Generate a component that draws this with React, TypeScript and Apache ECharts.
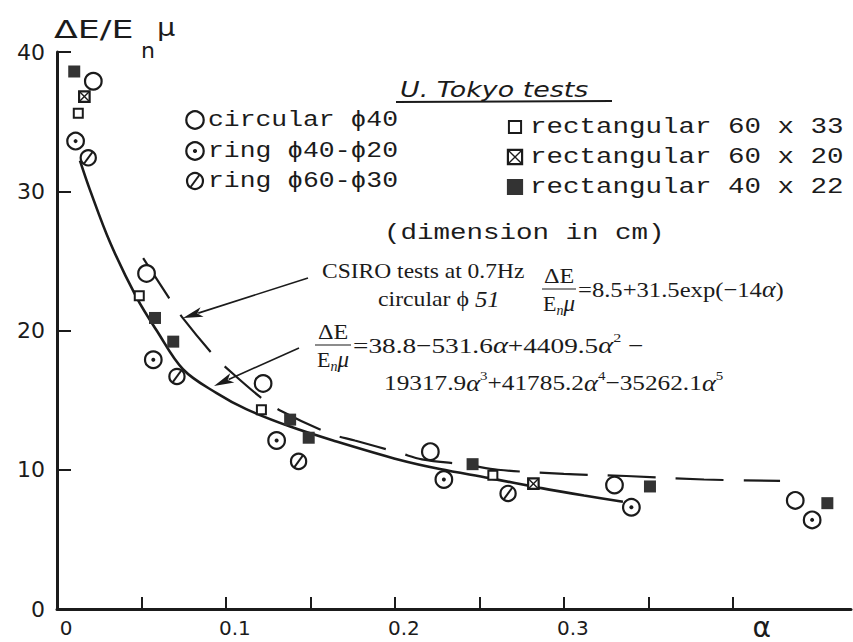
import React, { useEffect, useRef } from 'react';
import * as echarts from 'echarts';

// ---------------- data ----------------
const xTickValues = [0.05, 0.1, 0.15, 0.2, 0.25, 0.3, 0.35, 0.4];
const xLabelValues = [0, 0.1, 0.2, 0.3, 0.4];
const xLabelTexts = ['0', '0.1', '0.2', '0.3', 'α'];
const yLabelValues = [0, 10, 20, 30, 40];

// U. Tokyo tests
const circular40 = [[0.0215, 37.9], [0.053, 24.1], [0.122, 16.2], [0.221, 11.3], [0.33, 8.9], [0.437, 7.8]];
const ring40_20 = [[0.011, 33.6], [0.057, 17.9], [0.13, 12.1], [0.229, 9.3], [0.34, 7.3], [0.447, 6.4]];
const ring60_30 = [[0.0185, 32.4], [0.071, 16.7], [0.143, 10.6], [0.267, 8.3]];
const rect60x33 = [[0.0126, 35.6], [0.0487, 22.5], [0.121, 14.3], [0.258, 9.6]];
const rect60x20 = [[0.0162, 36.8], [0.282, 9.0]];
const rect40x22 = [[0.0102, 38.6], [0.058, 20.9], [0.0688, 19.2], [0.138, 13.6], [0.149, 12.3], [0.246, 10.4], [0.351, 8.8], [0.456, 7.6]];

// solid fitted curve (polynomial)
const polyCurve = [
  [0.0136, 32.2], [0.0195, 30.1], [0.0315, 26.3], [0.047, 22.4], [0.059, 20.0], [0.0747, 17.2],
  [0.0945, 15.5], [0.112, 14.35], [0.138, 13.1], [0.1635, 12.1], [0.203, 10.7], [0.2266, 10.05],
  [0.256, 9.4], [0.286, 8.7], [0.312, 8.15], [0.335, 7.7],
];
// dashed CSIRO curve, points read along the drawn dashes
const csiroCurve = [
  [0.051, 25.2], [0.0665, 22.3], [0.0738, 21.0], [0.0935, 18.1], [0.1004, 17.3], [0.12, 15.25],
  [0.133, 14.2], [0.1615, 12.6], [0.1763, 12.1], [0.203, 11.2], [0.216, 10.75], [0.243, 10.35],
  [0.261, 10.0], [0.3, 9.7], [0.337, 9.55], [0.383, 9.3], [0.428, 9.2],
];

const legendLeft = ['circular ϕ40', 'ring ϕ40-ϕ20', 'ring ϕ60-ϕ30'];
const legendRight = ['rectangular 60 x 33', 'rectangular 60 x 20', 'rectangular 40 x 22'];

// ---------------- styling helpers ----------------
const INK = '#1b1b1b';
const MONO = '"Liberation Mono", "DejaVu Sans Mono", monospace';
const SERIF = '"Liberation Serif", "DejaVu Serif", serif';
const SANS = '"DejaVu Sans", "Liberation Sans", sans-serif';

type Kind = 'circle' | 'ringdot' | 'slash' | 'sqopen' | 'sqcross' | 'sqfill';

function marker(kind: Kind, x: number, y: number, k = 1): any[] {
  const r = 8.3 * k;
  const lw = 2.2;
  switch (kind) {
    case 'circle':
      return [{ type: 'circle', shape: { cx: x, cy: y, r }, style: { fill: '#fff', stroke: INK, lineWidth: lw } }];
    case 'ringdot':
      return [
        { type: 'circle', shape: { cx: x, cy: y, r }, style: { fill: '#fff', stroke: INK, lineWidth: lw } },
        { type: 'circle', shape: { cx: x, cy: y, r: 2 * k }, style: { fill: INK } },
      ];
    case 'slash': {
      const rr = 7.6 * k;
      return [
        { type: 'circle', shape: { cx: x, cy: y, r: rr }, style: { fill: '#fff', stroke: INK, lineWidth: lw } },
        { type: 'line', shape: { x1: x - rr * 0.55, y1: y + rr * 0.75, x2: x + rr * 0.55, y2: y - rr * 0.75 }, style: { stroke: INK, lineWidth: 2 } },
      ];
    }
    case 'sqopen': {
      const s = 9 * k;
      return [{ type: 'rect', shape: { x: x - s / 2, y: y - s / 2, width: s, height: s }, style: { fill: '#fff', stroke: INK, lineWidth: 2 } }];
    }
    case 'sqcross': {
      const s = 10.5 * k;
      return [
        { type: 'rect', shape: { x: x - s / 2, y: y - s / 2, width: s, height: s }, style: { fill: '#fff', stroke: INK, lineWidth: 2.2 } },
        { type: 'line', shape: { x1: x - s / 2, y1: y - s / 2, x2: x + s / 2, y2: y + s / 2 }, style: { stroke: INK, lineWidth: 1.4 } },
        { type: 'line', shape: { x1: x - s / 2, y1: y + s / 2, x2: x + s / 2, y2: y - s / 2 }, style: { stroke: INK, lineWidth: 1.4 } },
      ];
    }
    case 'sqfill': {
      const s = 12 * k;
      return [{ type: 'rect', shape: { x: x - s / 2, y: y - s / 2, width: s, height: s }, style: { fill: '#333' } }];
    }
  }
  return [];
}

function markerSeries(name: string, data: number[][], kind: Kind) {
  return {
    type: 'custom',
    name,
    data,
    encode: { x: 0, y: 1 },
    clip: false,
    z: 5,
    renderItem: (_params: any, api: any) => {
      const p = api.coord([api.value(0), api.value(1)]);
      return { type: 'group', children: marker(kind, p[0], p[1]) };
    },
  };
}

function text(str: string, x: number, y: number, font: string, opts: any = {}) {
  return {
    type: 'text',
    x,
    y,
    scaleX: opts.sx ?? 1,
    z: 10,
    style: {
      text: str,
      font,
      fill: INK,
      align: opts.align ?? 'left',
      textAlign: opts.align ?? 'left',
      verticalAlign: 'middle',
      textVerticalAlign: 'middle',
      rich: opts.rich,
    },
  };
}

function arrow(x1: number, y1: number, x2: number, y2: number, headLen = 20, headW = 5) {
  const dx = x2 - x1;
  const dy = y2 - y1;
  const L = Math.hypot(dx, dy);
  const ux = dx / L;
  const uy = dy / L;
  const bx = x2 - ux * headLen;
  const by = y2 - uy * headLen;
  const px = -uy * headW;
  const py = ux * headW;
  return [
    { type: 'line', z: 10, shape: { x1, y1, x2: bx + ux * 4, y2: by + uy * 4 }, style: { stroke: INK, lineWidth: 1.6 } },
    {
      type: 'polygon',
      z: 10,
      shape: { points: [[x2, y2], [bx + px, by + py], [bx + ux * 5, by + uy * 5], [bx - px, by - py]] },
      style: { fill: INK },
    },
  ];
}

const serifRich = {
  n: { fontFamily: SERIF, fontSize: 22, fill: INK, verticalAlign: 'middle', lineHeight: 28 },
  i: { fontFamily: SERIF, fontSize: 23, fontStyle: 'italic', fill: INK, verticalAlign: 'middle', lineHeight: 28 },
  s: { fontFamily: SERIF, fontSize: 13, fill: INK, verticalAlign: 'top', lineHeight: 28 },
  b: { fontFamily: SERIF, fontSize: 14, fontStyle: 'italic', fill: INK, verticalAlign: 'bottom', lineHeight: 24 },
};

function fraction(cx: number, barY: number, halfW: number) {
  return [
    text('ΔE', cx, barY - 13, `21px ${SERIF}`, { align: 'center', sx: 1.15 }),
    { type: 'line', z: 10, shape: { x1: cx - halfW, y1: barY, x2: cx + halfW, y2: barY }, style: { stroke: INK, lineWidth: 1.2 } },
    text('{n|E}{b|n}{i|μ}', cx, barY + 14, `21px ${SERIF}`, { align: 'center', sx: 1.0, rich: serifRich }),
  ];
}

export default function App() {
  const ref = useRef<HTMLDivElement>(null);

  useEffect(() => {
    if (!ref.current) return;
    const chart = echarts.init(ref.current, undefined, { renderer: 'svg' });

    const graphics: any[] = [];
    // y-axis title  ΔE/E_n μ
    graphics.push(text('ΔE/E', 54, 30, `24px ${SANS}`, { sx: 1.45 }));
    graphics.push(text('n', 141, 50, `22px ${SANS}`));
    graphics.push(text('μ', 157, 27, `24px ${SANS}`, { sx: 1.2 }));

    // legend title
    graphics.push(text('U. Tokyo tests', 400, 90, `italic 21px ${SANS}`, { sx: 1.28 }));
    graphics.push({ type: 'line', z: 10, shape: { x1: 396, y1: 102, x2: 612, y2: 101 }, style: { stroke: INK, lineWidth: 2 } });

    const leftKinds: Kind[] = ['circle', 'ringdot', 'slash'];
    const leftY = [120, 151, 181];
    legendLeft.forEach((t, i) => {
      marker(leftKinds[i], 195, leftY[i], 1.05).forEach((m) => graphics.push({ ...m, z: 10 }));
      graphics.push(text(t, 208, leftY[i], `22px ${MONO}`, { sx: 1.2 }));
    });
    const rightKinds: Kind[] = ['sqopen', 'sqcross', 'sqfill'];
    const rightY = [127, 157, 187];
    legendRight.forEach((t, i) => {
      marker(rightKinds[i], 515, rightY[i], 1.35).forEach((m) => graphics.push({ ...m, z: 10 }));
      graphics.push(text(t, 530, rightY[i], `22px ${MONO}`, { sx: 1.25 }));
    });
    graphics.push(text('(dimension in cm)', 384, 233, `22px ${MONO}`, { sx: 1.25 }));

    // CSIRO annotation
    graphics.push(text('CSIRO tests at 0.7Hz', 322, 271, `21px ${SERIF}`, { sx: 1.12 }));
    graphics.push(text('{n|circular ϕ }{i|51}', 378, 299, `21px ${SERIF}`, { sx: 1.08, rich: serifRich }));
    graphics.push(...fraction(559, 289, 17));
    graphics.push(text('{n|=8.5+31.5exp(−14}{i|α}{n|)}', 578, 289, `21px ${SERIF}`, { sx: 1.12, rich: serifRich }));

    // polynomial annotation
    graphics.push(...fraction(333, 345, 18));
    graphics.push(
      text('{n|=38.8−531.6}{i|α}{n|+4409.5}{i|α}{s|2}{n| −}', 353, 345, `21px ${SERIF}`, { sx: 1.24, rich: serifRich })
    );
    graphics.push(
      text('{n|19317.9}{i|α}{s|3}{n|+41785.2}{i|α}{s|4}{n|−35262.1}{i|α}{s|5}', 384, 383, `21px ${SERIF}`, {
        sx: 1.15,
        rich: serifRich,
      })
    );

    // arrows
    graphics.push(...arrow(308, 278, 183, 318));
    graphics.push(...arrow(299, 348, 214, 386));

    chart.setOption({
      animation: false,
      backgroundColor: '#ffffff',
      textStyle: { fontFamily: SANS, color: INK },
      grid: { left: 57, right: 2, top: 52, bottom: 33, containLabel: false, outerBoundsMode: 'none' },
      xAxis: {
        type: 'value',
        min: 0,
        max: 0.47,
        interval: 0.05,
        splitLine: { show: false },
        axisLine: { show: true, onZero: false, lineStyle: { color: INK, width: 3 } },
        axisTick: { show: true, inside: true, length: 12, lineStyle: { color: INK, width: 2 }, customValues: xTickValues },
        axisLabel: {
          show: true,
          customValues: xLabelValues,
          margin: 9,
          color: INK,
          fontFamily: SANS,
          fontSize: 20,
          padding: [0, 0, 0, 18],
          formatter: (v: number) => {
            const i = xLabelValues.findIndex((t) => Math.abs(t - v) < 1e-6);
            if (i < 0) return '';
            return i === xLabelValues.length - 1 ? '{a|' + xLabelTexts[i] + '}' : xLabelTexts[i];
          },
          rich: { a: { fontFamily: SANS, fontSize: 28, lineHeight: 18, color: INK, padding: [0, 0, 0, 40] } },
        },
      },
      yAxis: {
        type: 'value',
        min: 0,
        max: 40,
        interval: 10,
        splitLine: { show: false },
        axisLine: { show: true, onZero: false, lineStyle: { color: INK, width: 3 } },
        axisTick: { show: true, inside: true, length: 14, lineStyle: { color: INK, width: 2 } },
        axisLabel: {
          show: true,
          margin: 12,
          color: INK,
          fontFamily: SANS,
          fontSize: 22,
          formatter: (v: number) => (yLabelValues.includes(v) ? String(v) : ''),
        },
      },
      series: [
        {
          type: 'line',
          name: 'polynomial fit',
          data: polyCurve,
          smooth: 0.35,
          showSymbol: false,
          z: 2,
          lineStyle: { color: INK, width: 2.6 },
        },
        {
          type: 'line',
          name: 'CSIRO 0.7Hz',
          data: csiroCurve,
          smooth: 0.35,
          showSymbol: false,
          z: 2,
          lineStyle: { color: INK, width: 2.2, type: [48, 20] },
        },
        markerSeries('circular ϕ40', circular40, 'circle'),
        markerSeries('ring ϕ40-ϕ20', ring40_20, 'ringdot'),
        markerSeries('ring ϕ60-ϕ30', ring60_30, 'slash'),
        markerSeries('rectangular 60 x 33', rect60x33, 'sqopen'),
        markerSeries('rectangular 60 x 20', rect60x20, 'sqcross'),
        markerSeries('rectangular 40 x 22', rect40x22, 'sqfill'),
      ],
      graphic: { elements: graphics },
    });

    return () => chart.dispose();
  }, []);

  return (
    <div
      ref={ref}
      style={{ position: 'fixed', left: 0, top: 0, width: 853, height: 642, background: '#fff' }}
    />
  );
}
